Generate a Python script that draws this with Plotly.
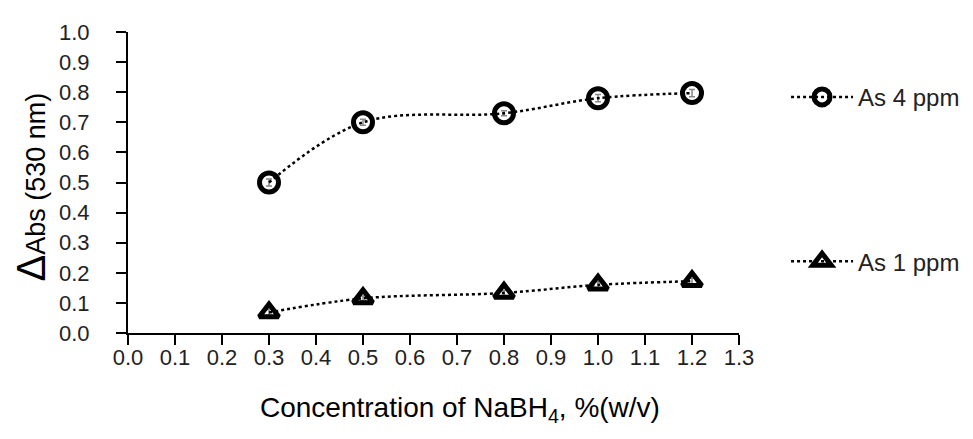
import plotly.graph_objects as go

conc = [0.3, 0.5, 0.8, 1.0, 1.2]
as4_abs = [0.50, 0.70, 0.73, 0.78, 0.797]
as4_err = [0.012, 0.01, 0.008, 0.012, 0.012]
as1_abs = [0.068, 0.115, 0.133, 0.16, 0.172]
as1_err = [0.01, 0.008, 0.008, 0.01, 0.01]
x_ticks = [round(i * 0.1, 1) for i in range(14)]
y_ticks = [round(i * 0.1, 1) for i in range(11)]

font_family = "Liberation Sans, Arial, sans-serif"

fig = go.Figure()
fig.add_trace(go.Scatter(
    x=conc, y=as4_abs, name="As 4 ppm", mode="lines+markers", showlegend=True,
    line=dict(color="black", width=2.5, dash="dot", shape="spline"),
    marker=dict(symbol="circle-open", size=19, color="black", line=dict(width=5, color="black")),
    error_y=dict(type="data", array=as4_err, color="#888888", thickness=1.5, width=3),
    legend="legend",
))
fig.add_trace(go.Scatter(
    x=conc, y=as1_abs, name="As 1 ppm", mode="lines+markers", showlegend=True,
    line=dict(color="black", width=2.5, dash="dot", shape="spline"),
    marker=dict(symbol="triangle-up-open", size=17, color="black", line=dict(width=5, color="black")),
    error_y=dict(type="data", array=as1_err, color="#888888", thickness=1.5, width=3),
    legend="legend2",
))

leg_common = dict(xanchor="left", yanchor="middle", itemwidth=62,
                  font=dict(size=24, color="#222222"), bgcolor="rgba(0,0,0,0)")
fig.update_layout(
    width=965, height=431,
    margin=dict(l=120, r=234, t=24, b=106, autoexpand=False),
    paper_bgcolor="white", plot_bgcolor="white",
    showlegend=True,
    font=dict(family=font_family, color="black", size=22),
    legend=dict(x=1.077, y=0.783, **leg_common),
    legend2=dict(x=1.077, y=0.237, **leg_common),
    annotations=[
        dict(text="Concentration of NaBH<sub>4</sub>, %(w/v)", xref="paper", yref="paper",
             x=0.543, y=-0.255, xanchor="center", yanchor="middle", showarrow=False,
             font=dict(size=28, color="black")),
        dict(text="<span style='font-size:40px'>Δ</span>Abs (530 nm)", xref="paper", yref="paper",
             x=-0.158, y=0.485, xanchor="center", yanchor="middle", showarrow=False, textangle=-90,
             font=dict(size=27, color="black")),
    ],
)
fig.update_xaxes(
    range=[0, 1.3], tickvals=x_ticks, ticktext=[f"{v:.1f}" for v in x_ticks],
    showgrid=False, zeroline=False, showline=True, linecolor="black", linewidth=2,
    ticks="outside", ticklen=10, tickwidth=2, tickcolor="black",
    ticklabelstandoff=-6,
    tickfont=dict(size=22, color="#222222"),
)
fig.update_yaxes(
    range=[0, 1.0], tickvals=y_ticks, ticktext=[f"{v:.1f}" for v in y_ticks],
    showgrid=False, zeroline=False, showline=True, linecolor="black", linewidth=2,
    ticks="outside", ticklen=10, tickwidth=2, tickcolor="black",
    ticklabelstandoff=22,
    tickfont=dict(size=22, color="#222222"),
)

fig.write_html("out.html")
